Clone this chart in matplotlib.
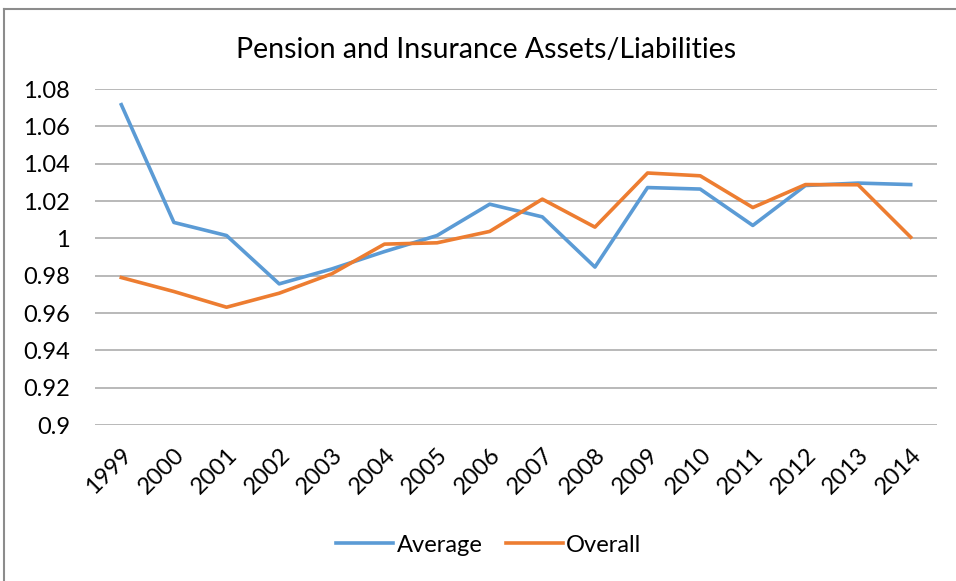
import matplotlib
matplotlib.use("Agg")
import matplotlib.pyplot as plt
from matplotlib.lines import Line2D

years = ["1999", "2000", "2001", "2002", "2003", "2004", "2005", "2006",
         "2007", "2008", "2009", "2010", "2011", "2012", "2013", "2014"]
average = [1.0716, 1.0085, 1.0015, 0.9756, 0.9836, 0.9929, 1.0015, 1.0183,
           1.0115, 0.9846, 1.0272, 1.0264, 1.0069, 1.0283, 1.0296, 1.0288]
overall = [0.9790, 0.9715, 0.9631, 0.9706, 0.9810, 0.9969, 0.9976, 1.0037,
           1.0210, 1.0060, 1.0350, 1.0335, 1.0165, 1.0288, 1.0287, 1.0006]
yticks = [0.9, 0.92, 0.94, 0.96, 0.98, 1.0, 1.02, 1.04, 1.06, 1.08]
ytick_labels = ["0.9", "0.92", "0.94", "0.96", "0.98", "1", "1.02", "1.04", "1.06", "1.08"]
title = "Pension and Insurance Assets/Liabilities"

plt.rcParams['font.family'] = ['Lato', 'DejaVu Sans']

W, H = 956, 581
fig = plt.figure(figsize=(W / 100, H / 100), dpi=100)
ax = fig.add_axes([95 / W, 1 - 425 / H, (937 - 95) / W, (425 - 89) / H])

x = list(range(len(years)))
ax.plot(x, average, color="#5B9BD5", lw=2.6, label="Average", solid_joinstyle="round")
ax.plot(x, overall, color="#ED7D31", lw=2.6, label="Overall", solid_joinstyle="round")

ax.set_xlim(-0.5, len(years) - 0.5)
ax.set_ylim(0.9, 1.08)
ax.set_yticks(yticks)
ax.set_yticklabels(ytick_labels, fontsize=17)
ax.set_xticks(x)
ax.set_xticklabels(years, rotation=45, ha="right", rotation_mode="anchor", fontsize=17)
ax.tick_params(axis="y", length=0, pad=18)
ax.tick_params(axis="x", length=0, pad=14)
ax.grid(axis="y", color="#A6A6A6", lw=1.1)
ax.set_axisbelow(True)
for s in ax.spines.values():
    s.set_visible(False)

fig.text(486 / W, 1 - 50 / H, title, ha="center", va="center", fontsize=20.5)

handles = [Line2D([], [], color="#5B9BD5", lw=2.6), Line2D([], [], color="#ED7D31", lw=2.6)]
fig.legend(handles, ["Average", "Overall"], loc="center", bbox_to_anchor=(489 / W, 1 - 545 / H),
           ncol=2, frameon=False, fontsize=17, handlelength=2.4, handletextpad=0.15, columnspacing=1.0)

# chart border (top and left visible)
fig.add_artist(Line2D([4 / W, 1], [1 - 9 / H, 1 - 9 / H], color="#8C8C8C", lw=1.5, transform=fig.transFigure))
fig.add_artist(Line2D([4 / W, 4 / W], [0, 1 - 9 / H], color="#8C8C8C", lw=1.5, transform=fig.transFigure))

fig.savefig("out.png", dpi=100)
